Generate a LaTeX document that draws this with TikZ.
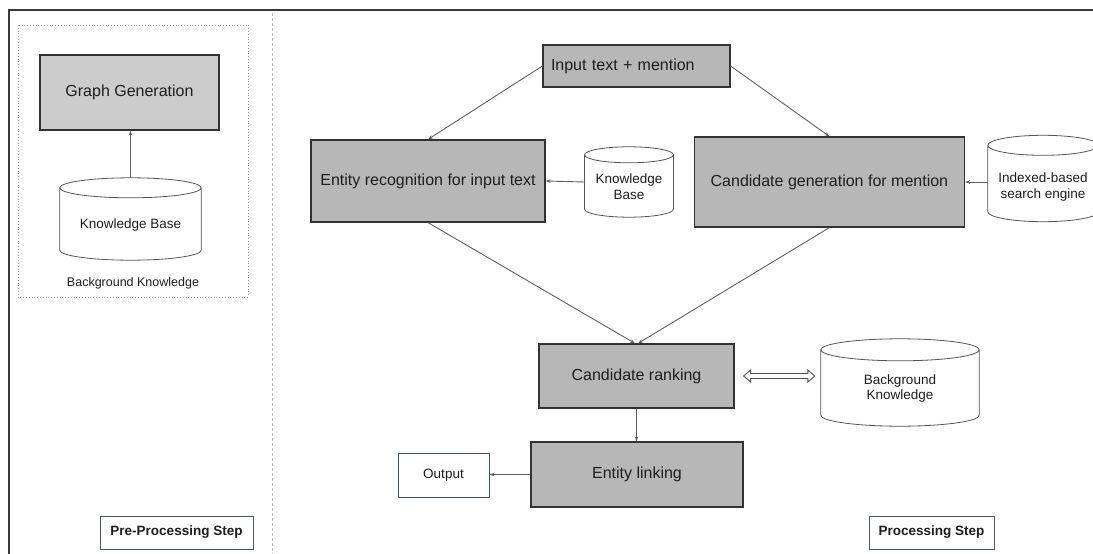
\documentclass[tikz,border=0pt]{standalone}
\usepackage{fontspec}
\setmainfont{Liberation Sans}
\usetikzlibrary{arrows.meta,calc}

\definecolor{boxfill}{HTML}{B7B7B7}
\definecolor{ggfill}{HTML}{CCCCCC}
\definecolor{edge}{HTML}{333333}
\definecolor{arrowc}{HTML}{5F5F5F}
\definecolor{cyledge}{HTML}{555555}
\definecolor{outedge}{HTML}{3D4E6E}
\definecolor{stepedge}{HTML}{4B5B62}
\definecolor{txt}{HTML}{1E1E1E}
\definecolor{framec}{HTML}{3A3A3A}

\tikzset{
  procbox/.style={draw=edge, line width=1.2pt, fill=boxfill, text=txt,
    font=\fontsize{16}{19}\selectfont, inner sep=0pt},
  conn/.style={draw=arrowc, line width=0.9pt, -{Stealth[length=5pt,width=3.5pt]}},
  cylbody/.style={inner sep=0pt},
  cyltext/.style={text=txt, align=center, font=\fontsize{13.5}{15.5}\selectfont, inner sep=0pt},
  stepbox/.style={draw=stepedge, line width=0.9pt, fill=white, text=txt,
    font=\bfseries\fontsize{13.5}{16}\selectfont, inner sep=0pt},
  dblarrow/.style={draw=cyledge, line width=0.9pt, fill=white, line join=miter},
}

% cylinder outline around a (blank) node: #1 = node name, #2 = half-height of the end ellipses (pt)
\newcommand\drawcyl[2]{%
  \draw[draw=cyledge, line width=0.8pt, fill=white]
    let \p1=(#1.north west), \p2=(#1.south east), \n1={(\x2-\x1)/2} in
    (\x1,\y1-#2pt) -- (\x1,\y2+#2pt)
    arc[start angle=180, end angle=360, x radius={\n1*1pt}, y radius=#2pt]
    -- (\x2,\y1-#2pt)
    arc[start angle=0, end angle=180, x radius={\n1*1pt}, y radius=#2pt] -- cycle
    (\x1,\y1-#2pt) arc[start angle=180, end angle=360, x radius={\n1*1pt}, y radius=#2pt];
}

\begin{document}
\begin{tikzpicture}[x=1pt,y=-1pt]
  \useasboundingbox (0,0) rectangle (1093,554);
  \fill[white] (0,0) rectangle (1093,554);

  % outer frame and separator
  \draw[framec, line width=1.2pt] (1100,10) -- (9,10) -- (9,560);
  \draw[gray!55, line width=1pt, dash pattern=on 3pt off 2pt] (272,13) -- (272,554);

  % ---------- pre-processing ----------
  \draw[gray!80, line width=0.8pt, dotted] (18,25) rectangle (248,297);
  \node[procbox, fill=ggfill, minimum width=179pt, minimum height=75pt] (gg) at (129.5,92.5) {Graph Generation};

  \node[cylbody, minimum width=141pt, minimum height=82pt] (kbL) at (130.5,219) {};
  \drawcyl{kbL}{10}
  \node[cyltext] (kbLt) at ([yshift=-6pt]kbL.center) {Knowledge Base};
  \draw[conn] (kbL.north) -- (kbL.north |- gg.south);

  \node[text=txt, inner sep=0pt, font=\fontsize{12.5}{15}\selectfont] (bkl) at (133,283) {Background Knowledge};

  \node[stepbox, minimum width=153pt, minimum height=33pt] (pre) at (176.5,532.5) {Pre-Processing Step};

  % ---------- processing ----------
  \node[procbox, minimum height=42pt, text width=171pt, inner xsep=8pt, align=left] (inp) at (636.5,66) {Input text + mention};
  \node[procbox, minimum width=234pt, minimum height=82pt] (ent) at (428,181) {Entity recognition for input text};
  \node[procbox, minimum width=270pt, minimum height=90pt] (cand) at (829.4,182) {Candidate generation for mention};

  \node[cylbody, minimum width=88.5pt, minimum height=70pt] (kbS) at (629,182) {};
  \drawcyl{kbS}{8}
  \node[cyltext] (kbSt) at ([yshift=-4.5pt]kbS.center) {Knowledge\\Base};

  \node[cylbody, minimum width=110pt, minimum height=86pt] (idx) at (1043,178.5) {};
  \drawcyl{idx}{10}
  \node[cyltext] (idxt) at ([yshift=-8.5pt]idx.center) {Indexed-based\\search engine};

  \node[procbox, minimum width=195pt, minimum height=64pt] (rank) at (636.5,376) {Candidate ranking};
  \node[cylbody, minimum width=158pt, minimum height=87pt] (bgk) at (900,382.5) {};
  \drawcyl{bgk}{11}
  \node[cyltext] (bgkt) at ([yshift=-6pt]bgk.center) {Background\\Knowledge};

  \node[procbox, minimum width=212pt, minimum height=65pt] (link) at (637,474.5) {Entity linking};
  \node[draw=outedge, line width=0.9pt, fill=white, text=txt, inner sep=0pt,
        minimum width=91pt, minimum height=44pt, font=\fontsize{13.5}{16}\selectfont] (out) at (443.5,475) {Output};

  \node[stepbox, minimum width=125pt, minimum height=33pt] (proc) at (931.5,532.5) {Processing Step};

  % connectors
  \draw[conn] (inp.west) -- (ent.north);
  \draw[conn] (inp.east) -- (cand.north);
  \draw[conn] (kbS.west) -- (ent.east);
  \draw[conn] (idx.west |- cand.east) -- (cand.east);
  \draw[conn] (ent.south) -- ([xshift=-1.5pt]rank.north);
  \draw[conn] (cand.south) -- ([xshift=1.5pt]rank.north);
  \draw[conn] (rank.south) -- (rank.south |- link.north);
  \draw[conn] (link.west) -- (link.west -| out.east);

  % two-way exchange between ranking and background knowledge
  \coordinate (dblL) at ($(rank.east)+(9,0)$);
  \coordinate (dblR) at ($(bgk.west |- rank.east)+(-6,0)$);
  \draw[dblarrow] (dblL) -- ++(7,-6) -- ++(0,3.5) -- ($(dblR)+(-7,-2.5)$) -- ++(0,-3.5)
    -- (dblR) -- ++(-7,6) -- ++(0,-3.5) -- ($(dblL)+(7,2.5)$) -- ++(0,3.5) -- cycle;
\end{tikzpicture}
\end{document}
